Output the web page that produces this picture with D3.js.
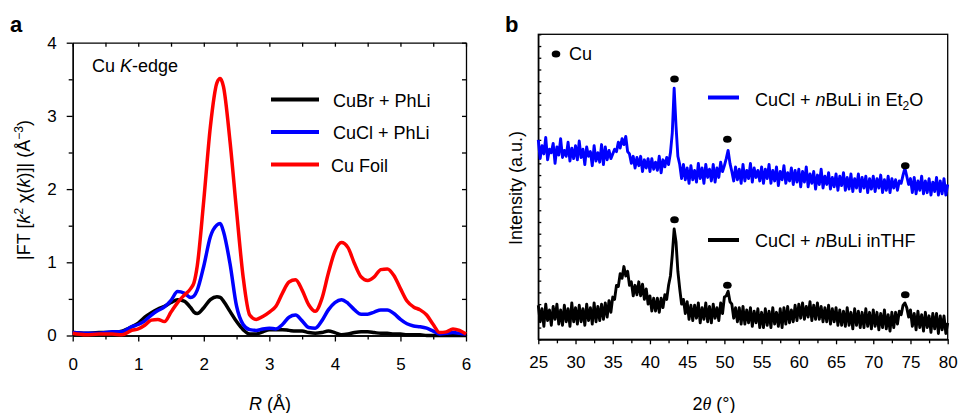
<!DOCTYPE html>
<html>
<head>
<meta charset="utf-8">
<script src="https://cdn.jsdelivr.net/npm/d3@7"></script>
<style>
  body { margin: 0; background: #fff; }
  svg { font-family: "Liberation Sans", Arial, sans-serif; }
  .tick text { font-size: 17px; fill: #000; }
  .domain, .tick line { stroke: #000; stroke-width: 1.3; }
</style>
</head>
<body>
<div id="chart"></div>
<script>
// ---- panel a: EXAFS |FT| ----
const rGrid = [0, 0.2, 0.4, 0.6, 0.75, 0.9,
    1.0, 1.1, 1.2, 1.3, 1.4, 1.5, 1.6, 1.7, 1.8, 1.85, 1.9, 2.0, 2.1, 2.2, 2.25,
    2.3, 2.4, 2.5, 2.6, 2.7, 2.8, 2.9, 3.0, 3.1, 3.2, 3.3, 3.4, 3.5, 3.6, 3.7,
    3.8, 3.9, 4.0, 4.1, 4.2, 4.3, 4.4, 4.5, 4.6, 4.7, 4.8, 4.9, 5.0, 5.1, 5.2,
    5.3, 5.4, 5.5, 5.6, 5.7, 5.8, 5.9, 6.0];
const cuBrPhLi = [0.04, 0.03, 0.04, 0.04, 0.06, 0.12,
    0.17, 0.25, 0.31, 0.36, 0.4, 0.45, 0.49, 0.47, 0.38, 0.32, 0.3, 0.38, 0.49, 0.53, 0.52,
    0.47, 0.33, 0.19, 0.08, 0.02, 0.02, 0.05, 0.08, 0.08, 0.08, 0.07, 0.06, 0.06, 0.04, 0.03,
    0.04, 0.06, 0.04, 0.01, 0.02, 0.04, 0.05, 0.05, 0.04, 0.03, 0.03, 0.02, 0.02, 0.01, 0.01,
    0.01, 0, 0, 0, 0, 0, 0, 0];
const cuClPhLi = [0.04, 0.03, 0.03, 0.05, 0.05, 0.12,
    0.15, 0.2, 0.28, 0.34, 0.39, 0.48, 0.6, 0.58, 0.52, 0.54, 0.62, 0.95, 1.35, 1.51, 1.53,
    1.42, 0.98, 0.4, 0.15, 0.08, 0.07, 0.09, 0.1, 0.09, 0.15, 0.25, 0.28, 0.2, 0.11, 0.1,
    0.2, 0.35, 0.45, 0.49, 0.44, 0.35, 0.29, 0.29, 0.32, 0.35, 0.35, 0.3, 0.22, 0.16, 0.13,
    0.12, 0.1, 0.06, 0.02, 0.03, 0.04, 0.03, 0.02];
const cuFoil = [0.03, 0.01, 0.02, 0.02, 0.01, 0.07,
    0.09, 0.14, 0.21, 0.22, 0.19, 0.32, 0.45, 0.55, 0.64, 0.72, 0.95, 1.85, 2.85, 3.45, 3.51,
    3.4, 2.65, 1.7, 0.8, 0.28, 0.22, 0.26, 0.32, 0.4, 0.58, 0.73, 0.76, 0.62, 0.42, 0.33,
    0.5, 0.85, 1.15, 1.27, 1.2, 0.98, 0.8, 0.75, 0.8, 0.9, 0.91, 0.82, 0.64, 0.47, 0.39,
    0.35, 0.28, 0.15, 0.04, 0.05, 0.09, 0.07, 0.02];
const rTicks = [0, 1, 2, 3, 4, 5, 6];
const ftTicks = [0, 1, 2, 3, 4];

// ---- panel b: XRD, sampled every 0.25 deg from 25 to 80 ----
const thetaStart = 25, thetaStep = 0.25;
const et2oTrace = [
    17.0, 15.4, 16.5, 15.8, 17.2, 15.3, 16.2, 15.9, 16.7, 15.0, 16.4, 15.7, 17.1, 15.5, 16.1, 15.6, 16.8, 15.2, 16.3, 15.4,
    16.5, 15.3, 16.9, 15.5, 16.2, 14.9, 16.4, 15.6, 16.0, 14.8, 16.5, 15.2, 15.9, 15.1, 16.6, 14.9, 16.4, 15.3, 16.1, 15.4,
    15.8, 16.2, 16.0, 16.8, 16.3, 17.1, 16.6, 17.3, 16.0, 15.8, 15.0, 15.6, 14.6, 15.5, 14.8, 15.6, 14.3, 15.3, 14.6, 15.4,
    14.3, 15.4, 14.5, 15.1, 14.4, 15.6, 14.2, 15.3, 14.7, 15.5, 14.9, 15.9, 17.6, 21.4, 18.2, 15.6, 14.9, 13.7, 14.9, 13.6,
    14.6, 13.3, 14.8, 13.6, 14.4, 13.4, 15.0, 13.7, 14.6, 13.3, 14.9, 13.8, 14.5, 13.5, 14.9, 13.4, 14.6, 13.8, 15.1, 14.3,
    14.8, 15.4, 16.1, 15.0, 14.3, 13.5, 14.7, 13.6, 14.5, 13.3, 14.9, 13.5, 14.4, 13.7, 15.0, 13.4, 14.6, 13.8, 14.4, 13.5,
    14.7, 13.3, 14.5, 13.7, 14.9, 13.3, 14.4, 13.5, 14.7, 13.1, 14.3, 13.6, 14.8, 13.3, 14.2, 13.5, 14.6, 13.2, 14.4, 13.4,
    14.5, 13.0, 14.3, 13.4, 14.7, 13.0, 14.1, 13.3, 14.3, 12.8, 14.0, 13.2, 14.5, 12.9, 13.9, 13.2, 14.2, 12.8, 13.8, 13.0,
    14.1, 12.7, 13.9, 13.1, 14.2, 12.7, 13.8, 12.8, 14.1, 12.6, 13.7, 12.9, 14.1, 12.6, 13.8, 12.9, 13.9, 12.5, 13.7, 12.8,
    13.9, 12.6, 13.7, 12.9, 14.0, 12.5, 13.6, 12.7, 13.9, 12.5, 13.7, 12.9, 13.6, 12.7, 13.5, 13.3, 14.0, 14.6, 13.9, 13.2,
    13.7, 12.5, 13.8, 12.4, 13.5, 12.7, 13.9, 12.4, 13.5, 12.5, 13.7, 12.3, 13.4, 12.6, 13.8, 12.3, 13.5, 12.4, 13.7, 12.3, 13.2];
const thfTrace = [
    2.9, 1.5, 2.6, 1.1, 3.0, 1.6, 2.5, 1.2, 2.8, 1.7, 3.0, 1.3, 2.5, 1.2, 2.9, 1.5, 2.6, 1.1, 3.1, 1.5,
    2.7, 1.3, 2.9, 1.5, 2.6, 1.2, 3.0, 1.6, 2.7, 1.3, 3.1, 1.5, 2.8, 1.6, 3.0, 1.7, 3.1, 1.9, 3.3, 2.3,
    3.6, 3.4, 4.6, 4.5, 5.6, 5.2, 6.2, 5.4, 5.8, 4.6, 4.9, 3.7, 4.6, 3.8, 4.9, 3.7, 4.7, 3.4, 4.3, 3.0,
    3.7, 2.4, 3.5, 2.4, 3.5, 2.3, 3.5, 2.7, 3.8, 3.4, 4.6, 5.4, 7.2, 9.4, 8.3, 5.8, 4.3, 3.0, 3.4, 2.2,
    3.2, 1.7, 2.9, 1.6, 2.9, 1.8, 3.1, 1.4, 2.7, 1.7, 3.1, 1.5, 2.8, 1.4, 3.0, 1.8, 2.7, 1.6, 3.1, 2.2,
    3.6, 3.7, 4.1, 3.2, 3.0, 1.8, 2.7, 1.5, 2.7, 1.3, 2.8, 1.3, 2.5, 1.4, 2.7, 1.1, 2.4, 1.4, 2.6, 1.0,
    2.3, 1.0, 2.6, 1.2, 2.4, 1.0, 2.7, 1.3, 2.3, 1.1, 2.6, 1.0, 2.7, 1.3, 2.8, 1.4, 2.5, 1.5, 2.9, 1.6,
    3.0, 1.8, 3.1, 1.7, 2.8, 1.9, 3.2, 1.6, 2.9, 1.7, 3.1, 1.7, 2.8, 1.5, 2.7, 1.5, 2.9, 1.3, 2.6, 1.5,
    2.7, 1.2, 2.5, 1.2, 2.4, 1.1, 2.7, 1.2, 2.3, 0.9, 2.6, 1.2, 2.4, 1.0, 2.3, 1.0, 2.6, 1.1, 2.3, 0.9,
    2.5, 1.1, 2.3, 0.8, 2.2, 1.0, 2.5, 0.9, 2.1, 0.7, 2.3, 1.0, 2.3, 1.3, 2.4, 2.1, 2.9, 3.1, 2.7, 1.9,
    2.5, 1.1, 2.2, 0.8, 2.4, 1.0, 2.1, 0.7, 2.3, 1.0, 2.0, 0.6, 2.2, 0.9, 2.2, 0.5, 2.0, 0.8, 2.0, 0.5, 1.4];
const cuPeaks = [43.3, 50.4, 74.3];
const et2oDotY = [22.2, 17.05, 14.8];
const thfDotY = [10.2, 4.6, 3.8];
const thetaTicks = [25, 30, 35, 40, 45, 50, 55, 60, 65, 70, 75, 80];

var svg = d3.select("#chart").append("svg")
    .attr("width", 958)
    .attr("height", 413);

// ================= panel a =================
var xa = d3.scaleLinear().domain([0, 6]).range([72.7, 466]);
var ya = d3.scaleLinear().domain([0, 4]).range([335.5, 42.7]);
var a = svg.append("g");

// minor ticks (0.5 steps)
var rMinor = d3.range(0.5, 6, 1);
var ftMinor = d3.range(0.5, 4, 1);
var intFmt = d3.format("d");

a.append("g").attr("transform", "translate(0," + ya(0) + ")")
    .call(d3.axisBottom(xa).tickValues(rMinor).tickFormat("").tickSize(4).tickSizeOuter(0));
a.append("g").attr("transform", "translate(0," + ya(0) + ")")
    .call(d3.axisBottom(xa).tickValues(rTicks).tickFormat(intFmt).tickSize(6).tickPadding(16).tickSizeOuter(0));
a.append("g").attr("transform", "translate(" + xa(0) + ",0)")
    .call(d3.axisLeft(ya).tickValues(ftMinor).tickFormat("").tickSize(4).tickSizeOuter(0));
a.append("g").attr("transform", "translate(" + xa(0) + ",0)")
    .call(d3.axisLeft(ya).tickValues(ftTicks).tickFormat(intFmt).tickSize(6).tickPadding(10).tickSizeOuter(0));
a.append("g").attr("transform", "translate(0," + ya(4) + ")")
    .call(d3.axisTop(xa).tickValues(rMinor.concat(rTicks)).tickFormat("").tickSize(-4).tickSizeOuter(0));
a.append("g").attr("transform", "translate(" + xa(6) + ",0)")
    .call(d3.axisRight(ya).tickValues(ftMinor.concat(ftTicks)).tickFormat("").tickSize(-4).tickSizeOuter(0));

var lineA = d3.line()
    .x((d, i) => xa(rGrid[i]))
    .y(d => ya(d))
    .curve(d3.curveMonotoneX);

var seriesA = [
    {name: "CuBr + PhLi", values: cuBrPhLi, color: "#000000"},
    {name: "CuCl + PhLi", values: cuClPhLi, color: "#0000ff"},
    {name: "Cu Foil", values: cuFoil, color: "#ff0000"}
];

a.selectAll(".ft-line")
    .data(seriesA)
    .enter()
    .append("path")
    .attr("class", "ft-line")
    .attr("d", d => lineA(d.values))
    .attr("fill", "none")
    .attr("stroke", d => d.color)
    .attr("stroke-width", 3.5)
    .attr("stroke-linejoin", "round");

// legend a
var legA = a.selectAll(".leg-a")
    .data(seriesA)
    .enter()
    .append("g")
    .attr("class", "leg-a")
    .attr("transform", (d, i) => "translate(0," + (99.5 + i * 32.5) + ")");
legA.append("line")
    .attr("x1", 271).attr("x2", 319)
    .attr("stroke", d => d.color)
    .attr("stroke-width", 4);
legA.append("text")
    .attr("x", (d, i) => i == 2 ? 331 : 333).attr("y", 7)
    .attr("font-size", 18)
    .text(d => d.name);

var edge = a.append("text").attr("x", 92).attr("y", 72).attr("font-size", 18);
edge.append("tspan").text("Cu ");
edge.append("tspan").attr("font-style", "italic").text("K");
edge.append("tspan").text("-edge");

// axis titles a
var xt = a.append("text").attr("x", 270).attr("y", 410).attr("text-anchor", "middle").attr("font-size", 18);
xt.append("tspan").attr("font-style", "italic").text("R");
xt.append("tspan").text(" (Å)");

var yt = a.append("text")
    .attr("transform", "translate(30,190) rotate(-90)")
    .attr("text-anchor", "middle")
    .attr("font-size", 18);
yt.append("tspan").text("|FT [");
yt.append("tspan").attr("font-style", "italic").text("k");
yt.append("tspan").attr("font-size", 12).attr("dy", -7).text("2");
yt.append("tspan").attr("dy", 7).text(" χ(");
yt.append("tspan").attr("font-style", "italic").text("k");
yt.append("tspan").text(")]| (Å");
yt.append("tspan").attr("font-size", 12).attr("dy", -7).text("−3");
yt.append("tspan").attr("dy", 7).text(")");

svg.append("text").attr("x", 10).attr("y", 32)
    .attr("font-size", 22).attr("font-weight", "bold").text("a");

// ================= panel b =================
var xb = d3.scaleLinear().domain([25, 80]).range([538.3, 947.7]);
var yb = d3.scaleLinear().domain([0, 26]).range([339.3, 34.3]);
var b = svg.append("g");

b.append("rect")
    .attr("x", xb(25)).attr("y", yb(26))
    .attr("width", xb(80) - xb(25)).attr("height", yb(0) - yb(26))
    .attr("fill", "none").attr("stroke", "#000").attr("stroke-width", 1.3);

b.append("g").attr("transform", "translate(0," + yb(0) + ")")
    .call(d3.axisBottom(xb).tickValues(d3.range(27.5, 80, 5)).tickFormat("").tickSize(4).tickSizeOuter(0));
b.append("g").attr("transform", "translate(0," + yb(0) + ")")
    .call(d3.axisBottom(xb).tickValues(thetaTicks).tickFormat(intFmt).tickSize(5).tickPadding(12).tickSizeOuter(0));
b.append("g").attr("transform", "translate(" + xb(25) + ",0)")
    .call(d3.axisLeft(yb).ticks(26).tickFormat("").tickSize(-3).tickSizeOuter(0));

var lineB = d3.line()
    .x((d, i) => xb(thetaStart + i * thetaStep))
    .y(d => yb(d));

var seriesB = [
    {name: "et2o", values: et2oTrace, color: "#0000ff", dots: et2oDotY},
    {name: "thf", values: thfTrace, color: "#000000", dots: thfDotY}
];

b.selectAll(".xrd-line")
    .data(seriesB)
    .enter()
    .append("path")
    .attr("class", "xrd-line")
    .attr("d", d => lineB(d.values))
    .attr("fill", "none")
    .attr("stroke", d => d.color)
    .attr("stroke-width", 2.9)
    .attr("stroke-linejoin", "round");

seriesB.forEach(function(s) {
    b.selectAll(".dot-" + s.name)
        .data(cuPeaks)
        .enter()
        .append("ellipse")
        .attr("class", "dot-" + s.name)
        .attr("cx", d => xb(d))
        .attr("cy", (d, i) => yb(s.dots[i]))
        .attr("rx", 4.3).attr("ry", 3.5)
        .attr("fill", "#000");
});

// Cu marker legend
b.append("ellipse").attr("cx", 556).attr("cy", 54).attr("rx", 4.3).attr("ry", 3.5).attr("fill", "#000");
b.append("text").attr("x", 569).attr("y", 60).attr("font-size", 18).text("Cu");

// series legends
b.append("line").attr("x1", 708).attr("x2", 739).attr("y1", 97.5).attr("y2", 97.5)
    .attr("stroke", "#0000ff").attr("stroke-width", 4);
var l1 = b.append("text").attr("x", 755).attr("y", 106).attr("font-size", 18);
l1.append("tspan").text("CuCl + ");
l1.append("tspan").attr("font-style", "italic").text("n");
l1.append("tspan").text("BuLi in Et");
l1.append("tspan").attr("font-size", 12).attr("dy", 4).text("2");
l1.append("tspan").attr("dy", -4).text("O");

b.append("line").attr("x1", 708).attr("x2", 739).attr("y1", 240).attr("y2", 240)
    .attr("stroke", "#000").attr("stroke-width", 4);
var l2 = b.append("text").attr("x", 755).attr("y", 246.5).attr("font-size", 18);
l2.append("tspan").text("CuCl + ");
l2.append("tspan").attr("font-style", "italic").text("n");
l2.append("tspan").text("BuLi inTHF");

var bt = b.append("text").attr("x", 714).attr("y", 410).attr("text-anchor", "middle").attr("font-size", 18);
bt.append("tspan").text("2");
bt.append("tspan").attr("font-style", "italic").attr("font-family", "Liberation Serif, serif").text("θ");
bt.append("tspan").text(" (°)");

b.append("text")
    .attr("transform", "translate(522,188) rotate(-90)")
    .attr("text-anchor", "middle")
    .attr("font-size", 18)
    .text("Intensity (a.u.)");

svg.append("text").attr("x", 505).attr("y", 32)
    .attr("font-size", 22).attr("font-weight", "bold").text("b");
</script>
</body>
</html>
